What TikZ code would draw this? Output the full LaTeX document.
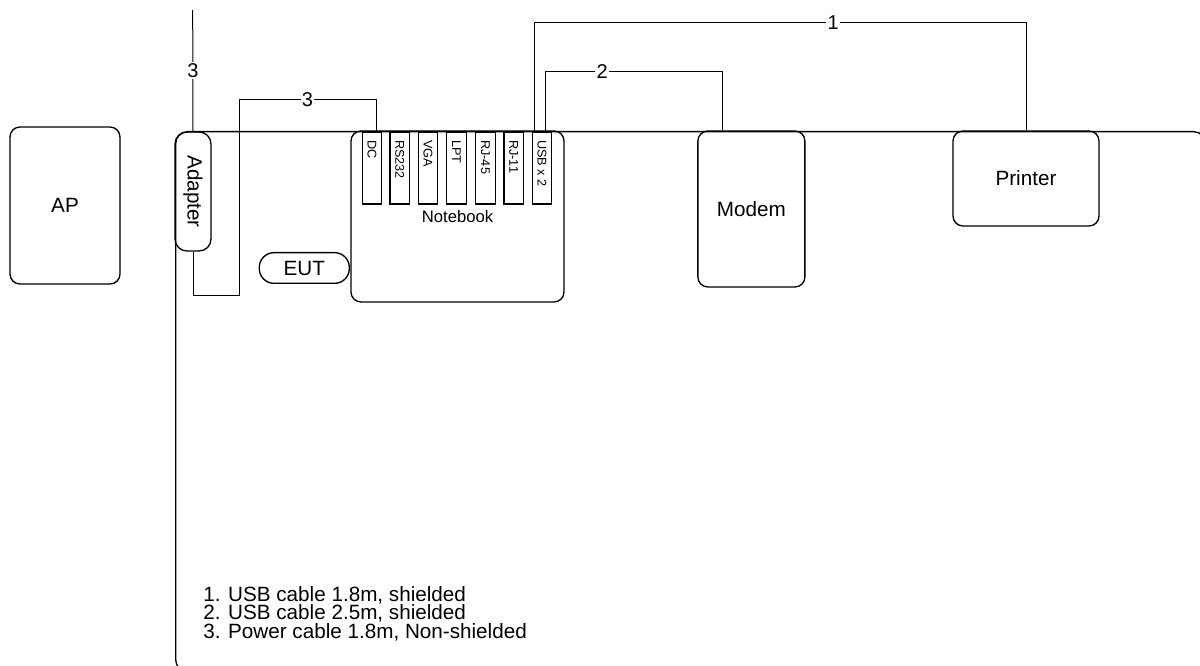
\documentclass[tikz,border=0pt]{standalone}
\usepackage{fontspec}
\setmainfont{Liberation Sans}
\begin{document}
\begin{tikzpicture}[x=0.75pt,y=-0.75pt,
  box/.style={draw,line width=1pt,rounded corners=7.5pt,inner sep=0pt,font=\fontsize{15.5}{18}\selectfont},
  port/.style={draw,line width=0.9pt,inner sep=0pt,minimum width=14.55pt,minimum height=54pt},
  portlbl/.style={rotate=-90,anchor=west,inner sep=0pt,font=\fontsize{9.5}{11}\selectfont},
  cable/.style={line width=0.75pt},
  num/.style={fill=white,inner sep=1pt,font=\fontsize{15}{18}\selectfont},
]
\useasboundingbox (0,0) rectangle (1200,666);
\begin{scope}
\clip (0,0) rectangle (1200,666);
\node[draw,line width=1pt,rounded corners=9pt,anchor=north west,inner sep=0pt,
  minimum width=772.5pt,minimum height=405pt] (frame) at (175,131) {};
\end{scope}

\node[box,minimum width=82.5pt,minimum height=117.75pt] (ap) at (65,205.5) {AP};
\node[box,rotate=-90,minimum width=89.25pt,minimum height=27pt,rounded corners=9pt] (adapter) at (193,191.5) {Adapter};
\node[box,minimum width=67.5pt,minimum height=23pt,rounded corners=11pt] (eut) at (304.3,268) {EUT};
\node[box,minimum width=159.75pt,minimum height=128.25pt,font=\fontsize{12.5}{15}\selectfont] (nb) at (457.5,216.5) {Notebook};

\node[port] (dc) at (372,168) {};
\node[port] (rs) at (399.7,168) {};
\node[port] (vga) at (428,168) {};
\node[port] (lpt) at (456.4,168) {};
\node[port] (rj45) at (485.4,168) {};
\node[port] (rj11) at (513.7,168) {};
\node[port] (usb) at (542,168) {};
\node[portlbl] (ldc) at (372,140) {DC};
\node[portlbl] (lrs) at (399.7,140) {RS232};
\node[portlbl] (lvga) at (428,140) {VGA};
\node[portlbl] (llpt) at (456.4,140) {LPT};
\node[portlbl] (lrj45) at (485.4,140) {RJ-45};
\node[portlbl] (lrj11) at (513.7,140) {RJ-11};
\node[portlbl] (lusb) at (542,140) {USB x 2};

\node[box,minimum width=80.25pt,minimum height=117pt] (modem) at (751.4,209) {Modem};
\node[box,minimum width=109.5pt,minimum height=71.25pt] (printer) at (1026,178.5) {Printer};

\coordinate (ptop) at (192.7,10);
\coordinate (dcin) at ([xshift=3pt]dc.north);
\coordinate (u1) at ([xshift=-6pt]usb.north);
\coordinate (u2) at ([xshift=2.75pt]usb.north);
\coordinate (min) at ([xshift=-22pt]modem.north);

\draw[cable] (ptop) -- node[num]{3} (adapter.west);
\draw[cable] (adapter.east) |- (239,296) -- (239,100) -| node[num,pos=0.25]{3} (dcin);
\draw[cable] (u1) -- ++(0,-108.5) -| node[num,pos=0.304]{1} (printer.north);
\draw[cable] (u2) -- ++(0,-60) -| node[num,pos=0.16]{2} (min);

\node[anchor=north west,align=left,inner sep=0pt,font=\fontsize{15.5}{13.8}\selectfont] (legend) at (203,586)
{1. USB cable 1.8m, shielded\\2. USB cable 2.5m, shielded\\3. Power cable 1.8m, Non-shielded};
\end{tikzpicture}
\end{document}
